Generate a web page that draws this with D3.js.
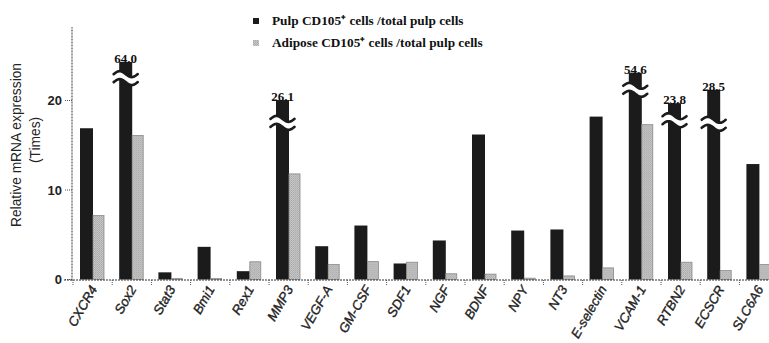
<!DOCTYPE html>
<html>
<head>
<meta charset="utf-8">
<script src="https://cdn.jsdelivr.net/npm/d3@7"></script>
<style>
  body { margin: 0; background: #fff; }
  svg { display: block; }
  .axis text { font-family: "Liberation Sans", Arial, sans-serif; }
</style>
</head>
<body>
<svg id="chart"></svg>
<script>
// gene names along the x axis
var genes = ["CXCR4", "Sox2", "Stat3", "Bmi1", "Rex1", "MMP3", "VEGF-A", "GM-CSF", "SDF1",
    "NGF", "BDNF", "NPY", "NT3", "E-selectin", "VCAM-1", "RTBN2", "ECSCR", "SLC6A6"];
// pulp CD105+ / total pulp (real values, some are off the scale)
var pulp = [16.9, 64.0, 0.8, 3.65, 0.93, 26.1, 3.72, 6.03, 1.79, 4.36, 16.2, 5.47, 5.59, 18.2, 54.6, 23.8, 28.5, 12.9];
// adipose CD105+ / total pulp
var adipose = [7.15, 16.1, 0.1, 0.1, 1.98, 11.8, 1.68, 2.0, 1.93, 0.64, 0.6, 0.15, 0.4, 1.3, 17.3, 1.93, 1.0, 1.68];
// bars drawn with an axis break: drawn height and where the break sits
var brokenGenes = ["Sox2", "MMP3", "VCAM-1", "RTBN2", "ECSCR"];
var brokenTop = [24.3, 20.05, 23.1, 19.7, 21.2];
var breakAt = [22.5, 17.5, 21.2, 17.8, 17.4];
var yTicks = [0, 10, 20];
var seriesNames = ["Pulp CD105\u207A cells /total pulp cells", "Adipose CD105\u207A cells /total pulp cells"];

(function () {
    var width = 769, height = 343;
    var svg = d3.select('#chart').attr('width', width).attr('height', height);

    var x = d3.scaleBand().domain(genes).range([73, 73 + 39.2 * genes.length]);
    var x1 = d3.scaleBand().domain(['pulp', 'adipose']).range([7, 31]);
    var y = d3.scaleLinear().domain([0, 20]).range([279.5, 100.5]);

    var dark = '#1b1b1b';
    var serif = '"Liberation Serif", "Times New Roman", serif';

    // light bars get a slightly speckled fill like the printed figure
    var pat = svg.append('defs').append('pattern')
        .attr('id', 'speckle').attr('width', 2).attr('height', 2)
        .attr('patternUnits', 'userSpaceOnUse');
    pat.append('rect').attr('width', 2).attr('height', 2).attr('fill', '#c6c6c6');
    pat.append('rect').attr('width', 1).attr('height', 1).attr('fill', '#a9a9a9');
    pat.append('rect').attr('x', 1).attr('y', 1).attr('width', 1).attr('height', 1).attr('fill', '#b3b3b3');

    var rows = genes.map(function (g, i) {
        var bi = brokenGenes.indexOf(g);
        return {
            gene: g,
            pulp: pulp[i],
            adipose: adipose[i],
            shown: bi >= 0 ? brokenTop[bi] : pulp[i],
            breakAt: bi >= 0 ? breakAt[bi] : null
        };
    });

    // bars
    var grp = svg.append('g').selectAll('g')
        .data(rows)
        .enter().append('g')
            .attr('transform', function (d) { return 'translate(' + x(d.gene) + ',0)'; });

    grp.append('rect')
        .attr('x', x1('pulp'))
        .attr('width', x1.bandwidth() + 1)
        .attr('y', function (d) { return y(d.shown); })
        .attr('height', function (d) { return y(0) - y(d.shown); })
        .attr('fill', dark);

    grp.append('rect')
        .attr('x', x1('adipose') + 1)
        .attr('width', x1.bandwidth() - 1)
        .attr('y', function (d) { return y(d.adipose); })
        .attr('height', function (d) { return y(0) - y(d.adipose); })
        .attr('fill', 'url(#speckle)')
        .attr('stroke', '#8a8a8a')
        .attr('stroke-width', 0.8);

    // axis breaks on the tall bars
    var broken = grp.filter(function (d) { return d.breakAt !== null; });
    function wave(cx, cy, half, amp) {
        return d3.range(0, 21).map(function (k) {
            var t = k / 20;
            return [cx - half + 2 * half * t, cy - amp * Math.sin(2 * Math.PI * t)];
        });
    }
    broken.each(function (d) {
        var g = d3.select(this);
        var cx = x1('pulp') + x1.bandwidth() / 2 + 0.5;
        var cy = y(d.breakAt);
        var top = wave(cx, cy - 4, 12, 3), bot = wave(cx, cy + 4, 12, 3);
        g.append('path')
            .attr('d', d3.line()(top.concat(bot.slice().reverse())) + 'Z')
            .attr('fill', '#fff');
        [top, bot].forEach(function (p) {
            g.append('path')
                .attr('d', d3.line()(p))
                .attr('fill', 'none')
                .attr('stroke', dark)
                .attr('stroke-width', 2.6)
                .attr('stroke-linecap', 'round');
        });
        g.append('text')
            .attr('x', cx)
            .attr('y', y(d.shown) + 1)
            .attr('text-anchor', 'middle')
            .style('font-family', serif)
            .style('font-weight', 'bold')
            .style('font-size', '13px')
            .attr('fill', '#111')
            .text(d3.format('.1f')(d.pulp));
    });

    // y axis
    var yAxis = svg.append('g').attr('class', 'axis').attr('transform', 'translate(72,0)');
    yAxis.append('line')
        .attr('y1', y(0) + 1).attr('y2', y(28.2))
        .attr('stroke', '#333').attr('stroke-dasharray', '2,1');
    yAxis.selectAll('.tick')
        .data(yTicks)
        .enter().append('line')
            .attr('x1', -7).attr('x2', 0)
            .attr('y1', function (d) { return y(d); }).attr('y2', function (d) { return y(d); })
            .attr('stroke', '#555').attr('stroke-dasharray', '1,1');
    yAxis.selectAll('text')
        .data(yTicks)
        .enter().append('text')
            .attr('x', -10)
            .attr('y', function (d) { return y(d); })
            .attr('dy', '0.35em')
            .attr('text-anchor', 'end')
            .style('font-size', '13px')
            .style('font-weight', 'bold')
            .attr('fill', '#222')
            .text(function (d) { return d; });

    // x axis
    var xAxis = svg.append('g').attr('class', 'axis').attr('transform', 'translate(0,' + (y(0) + 0.5) + ')');
    xAxis.append('line')
        .attr('x1', 64).attr('x2', width)
        .attr('stroke', '#333').attr('stroke-dasharray', '2,1');
    xAxis.selectAll('.tick')
        .data(genes)
        .enter().append('line')
            .attr('x1', function (d) { return x(d); }).attr('x2', function (d) { return x(d); })
            .attr('y1', 0).attr('y2', 6)
            .attr('stroke', '#555').attr('stroke-dasharray', '1,1');
    xAxis.selectAll('text')
        .data(genes)
        .enter().append('text')
            .attr('text-anchor', 'end')
            .attr('transform', function (d) {
                return 'translate(' + (x(d) + x.bandwidth() / 2 + 5) + ',9) rotate(-60)';
            })
            .style('font-size', '13.2px')
            .style('font-style', 'italic')
            .attr('fill', '#222')
            .attr('stroke', '#222')
            .attr('stroke-width', 0.35)
            .text(function (d) { return d; });

    // y axis title
    var title = svg.append('g')
        .attr('transform', 'translate(0,' + 145 + ') rotate(-90)')
        .style('font-family', '"Liberation Sans", Arial, sans-serif')
        .style('font-size', '13.8px')
        .attr('fill', '#222')
        .attr('text-anchor', 'middle');
    title.append('text').attr('y', 21).text('Relative mRNA expression');
    title.append('text').attr('x', 5).attr('y', 40).text('(Times)');

    // legend
    var legend = svg.append('g').attr('transform', 'translate(253,0)');
    var lg = legend.selectAll('g')
        .data(seriesNames)
        .enter().append('g')
            .attr('transform', function (d, i) { return 'translate(0,' + (18 + i * 22) + ')'; });
    lg.append('rect')
        .attr('width', 6).attr('height', 6)
        .attr('fill', function (d, i) { return i === 0 ? dark : 'url(#speckle)'; });
    lg.append('text')
        .attr('x', 19).attr('y', 7)
        .style('font-family', serif)
        .style('font-weight', 'bold')
        .style('font-size', '13.3px')
        .attr('fill', '#111')
        .text(function (d) { return d; });
}());
</script>
</body>
</html>
